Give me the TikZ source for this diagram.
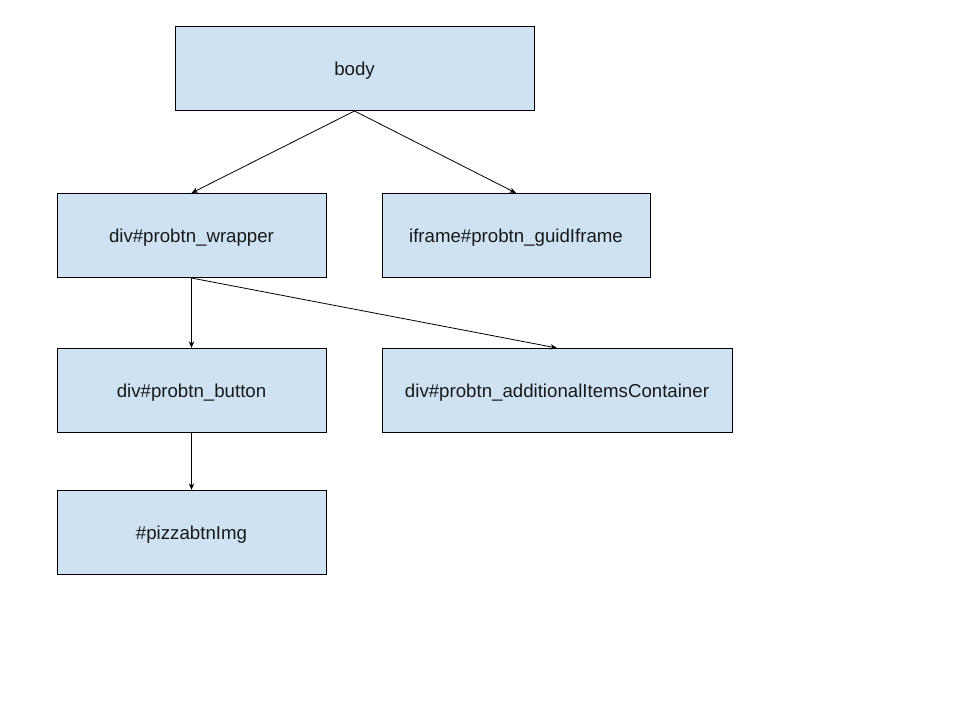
\documentclass[tikz,border=0pt]{standalone}
\usepackage{fontspec}
\setmainfont{Liberation Sans}
\usetikzlibrary{arrows.meta}
\definecolor{boxfill}{HTML}{CFE2F3}
\begin{document}
\begin{tikzpicture}[x=0.75pt,y=-0.75pt,
  box/.style={draw=black, fill=boxfill, line width=0.75pt, rectangle, inner sep=0pt,
    minimum height=63pt, font=\fontsize{14}{16}\selectfont, text=black!90,
    text height=13.5pt, text depth=2.5pt},
  conn/.style={-{Stealth[length=5pt,width=4pt]}, line width=0.6pt}]
\useasboundingbox (0,0) rectangle (960,720);
\node[box, minimum width=269.25pt] (body) at (354.5,68.5) {body};
\node[box, minimum width=201.75pt] (wrap) at (191.5,235.5) {div\#probtn\_wrapper};
\node[box, minimum width=201pt] (ifr) at (516,235.5) {iframe\#probtn\_guidIframe};
\node[box, minimum width=201.75pt] (btn) at (191.5,390.5) {div\#probtn\_button};
\node[box, minimum width=262.5pt] (add) at (557,390.5) {div\#probtn\_additionalItemsContainer};
\node[box, minimum width=201.75pt] (img) at (191.5,532.5) {\#pizzabtnImg};
\draw[conn] (body.south) -- (wrap.north);
\draw[conn] (body.south) -- (ifr.north);
\draw[conn] (wrap.south) -- (btn.north);
\draw[conn] (wrap.south) -- (add.north);
\draw[conn] (btn.south) -- (img.north);
\end{tikzpicture}
\end{document}
